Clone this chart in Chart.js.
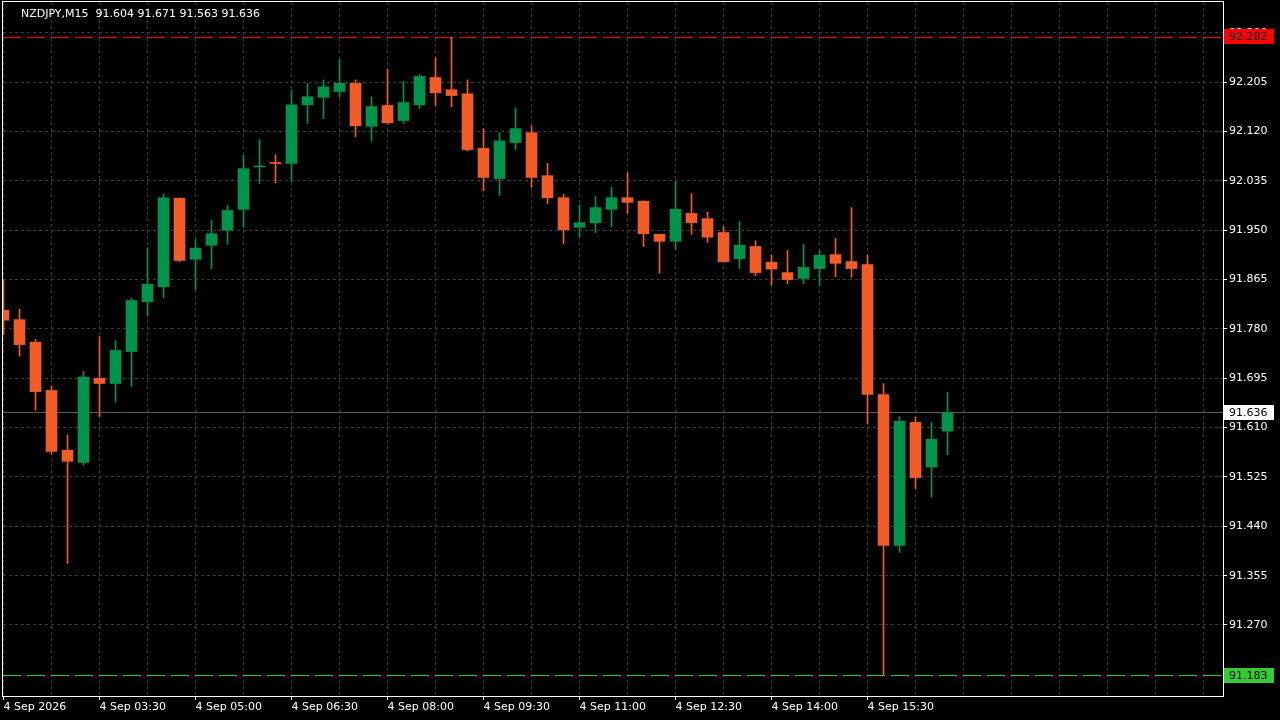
<!DOCTYPE html>
<html>
<head>
<meta charset="utf-8">
<script src="https://cdn.jsdelivr.net/npm/chart.js@4/dist/chart.umd.min.js"></script>
<style>
  html, body { margin: 0; padding: 0; background: #000; overflow: hidden; }
  canvas { display: block; }
</style>
</head>
<body>
<canvas id="chart" width="1280" height="720"></canvas>
<script>
// NZDJPY M15, 60 bars starting 4 Sep 02:00
var symbol = "NZDJPY,M15";

var opens = [
  91.812, 91.796, 91.757, 91.674, 91.571, 91.550, 91.695, 91.686, 91.741, 91.827,
  91.853, 92.005, 91.900, 91.924, 91.950, 91.986, 92.059, 92.066, 92.065, 92.166,
  92.179, 92.189, 92.203, 92.129, 92.165, 92.139, 92.166, 92.213, 92.192, 92.185,
  92.091, 92.039, 92.101, 92.118, 92.044, 92.006, 91.955, 91.963, 91.986, 92.006,
  92.000, 91.943, 91.931, 91.979, 91.970, 91.946, 91.901, 91.922, 91.895, 91.877,
  91.867, 91.884, 91.908, 91.896, 91.891, 91.667, 91.407, 91.619, 91.542, 91.604
];
var highs = [
  91.864, 91.814, 91.762, 91.682, 91.597, 91.707, 91.767, 91.760, 91.833, 91.920,
  92.013, 92.006, 91.934, 91.967, 91.993, 92.079, 92.106, 92.080, 92.191, 92.203,
  92.209, 92.244, 92.209, 92.180, 92.227, 92.206, 92.218, 92.247, 92.282, 92.209,
  92.125, 92.118, 92.161, 92.130, 92.065, 92.012, 91.994, 92.008, 92.024, 92.049,
  92.001, 91.943, 92.034, 92.013, 91.981, 91.956, 91.965, 91.932, 91.907, 91.915,
  91.926, 91.915, 91.936, 91.989, 91.907, 91.686, 91.629, 91.628, 91.619, 91.671
];
var lows = [
  91.771, 91.733, 91.640, 91.564, 91.376, 91.545, 91.629, 91.654, 91.681, 91.803,
  91.834, 91.896, 91.848, 91.884, 91.926, 91.955, 92.030, 92.032, 92.034, 92.134,
  92.142, 92.179, 92.111, 92.103, 92.134, 92.134, 92.160, 92.165, 92.163, 92.087,
  92.018, 92.010, 92.089, 92.024, 91.996, 91.927, 91.938, 91.946, 91.956, 91.979,
  91.922, 91.876, 91.917, 91.943, 91.929, 91.895, 91.884, 91.872, 91.855, 91.858,
  91.858, 91.855, 91.870, 91.869, 91.617, 91.183, 91.395, 91.505, 91.490, 91.563
];
var closes = [
  91.795, 91.753, 91.672, 91.569, 91.552, 91.697, 91.686, 91.743, 91.829, 91.857,
  92.006, 91.898, 91.919, 91.944, 91.984, 92.056, 92.060, 92.065, 92.166, 92.180,
  92.197, 92.203, 92.130, 92.163, 92.135, 92.170, 92.215, 92.187, 92.182, 92.089,
  92.041, 92.104, 92.125, 92.041, 92.006, 91.951, 91.963, 91.989, 92.006, 91.998,
  91.944, 91.931, 91.986, 91.963, 91.938, 91.896, 91.924, 91.877, 91.883, 91.865,
  91.886, 91.907, 91.893, 91.884, 91.667, 91.407, 91.621, 91.524, 91.590, 91.636
];

// one label every 6 bars
var timeLabels = [
  "4 Sep 2026", "4 Sep 03:30", "4 Sep 05:00", "4 Sep 06:30", "4 Sep 08:00",
  "4 Sep 09:30", "4 Sep 11:00", "4 Sep 12:30", "4 Sep 14:00", "4 Sep 15:30"
];
var priceTicks = [
  92.290, 92.205, 92.120, 92.035, 91.950, 91.865, 91.780, 91.695,
  91.610, 91.525, 91.440, 91.355, 91.270
];

var dayHigh = 92.282;
var dayLow = 91.183;
var bid = 91.636;

var bullColor = "#00944a";
var bearColor = "#f25c28";
var gridColor = "#3a3a3a";

// visible window (chart shift leaves empty space on the right)
var xMin = -0.03125, xMax = 76.21875;
var yMin = 91.14769, yMax = 92.34315;

var bodyData = opens.map(function (o, i) { return { x: i, y: [o, closes[i]] }; });
var wickData = lows.map(function (l, i) { return { x: i, y: [l, highs[i]] }; });
var candleColors = opens.map(function (o, i) { return closes[i] >= o ? bullColor : bearColor; });

function hline(value, color, dash) {
    return {
        type: "line",
        data: [{ x: xMin, y: value }, { x: xMax, y: value }],
        borderColor: color,
        borderWidth: 1,
        borderDash: dash,
        pointRadius: 0,
        order: 5
    };
}

function labelled(v) {
    return v % 6 === 0 && v / 6 < timeLabels.length;
}

// no extra room for edge labels, the frame fills the window
function noPadding(scale) {
    scale.paddingTop = 0;
    scale.paddingBottom = 0;
    scale.paddingLeft = 0;
    scale.paddingRight = 0;
}

var overlay = {
    id: "overlay",
    afterDraw: function (chart) {
        var ctx = chart.ctx;
        var area = chart.chartArea;
        var y = chart.scales.y;

        ctx.save();
        // frame
        ctx.strokeStyle = "#ffffff";
        ctx.lineWidth = 1;
        ctx.strokeRect(area.left - 0.5, area.top - 0.5, area.right - area.left + 1, area.bottom - area.top + 1);

        ctx.font = "11px 'DejaVu Sans'";
        ctx.textBaseline = "middle";

        // price tags on the axis
        [[dayHigh, "#ff0000"], [bid, "#ffffff"], [dayLow, "#32cd32"]].forEach(function (t) {
            var py = Math.round(y.getPixelForValue(t[0]));
            ctx.fillStyle = t[1];
            ctx.fillRect(area.right + 1, py - 8, 50, 15);
            ctx.fillStyle = "#000000";
            ctx.fillText(t[0].toFixed(3), area.right + 6, py);
        });

        // title
        var last = opens.length - 1;
        ctx.fillStyle = "#ffffff";
        ctx.textBaseline = "alphabetic";
        ctx.fillText(symbol + "  " + opens[last].toFixed(3) + " " + highs[last].toFixed(3) + " " +
            lows[last].toFixed(3) + " " + closes[last].toFixed(3), 21, 17);
        ctx.restore();
    }
};

Chart.defaults.font.family = "'DejaVu Sans'";
Chart.defaults.font.size = 11;

new Chart(document.getElementById("chart"), {
    type: "bar",
    data: {
        datasets: [
            {
                data: bodyData,
                backgroundColor: candleColors,
                barThickness: 11,
                minBarLength: 1,
                grouped: false,
                borderWidth: 0,
                order: 0
            },
            {
                data: wickData,
                backgroundColor: candleColors,
                barThickness: 1,
                grouped: false,
                borderWidth: 0,
                order: 1
            },
            hline(bid, "#5a5a5a", []),
            hline(dayHigh, "#ff0000", [18, 6]),
            hline(dayLow, "#32cd32", [18, 6])
        ]
    },
    options: {
        responsive: false,
        animation: false,
        layout: { padding: { left: 3, top: 2, right: 0, bottom: 0 } },
        plugins: { legend: { display: false }, tooltip: { enabled: false } },
        scales: {
            x: {
                type: "linear",
                min: xMin,
                max: xMax,
                offset: false,
                afterBuildTicks: function (scale) {
                    var t = [];
                    for (var v = 0; v <= 75; v += 3) t.push({ value: v });
                    scale.ticks = t;
                },
                afterFit: function (scale) { scale.height = 24; noPadding(scale); },
                ticks: {
                    autoSkip: false,
                    maxRotation: 0,
                    align: "start",
                    color: "#ffffff",
                    padding: 1,
                    callback: function (v) { return labelled(v) ? timeLabels[v / 6] : ""; }
                },
                grid: {
                    offset: false,
                    color: gridColor,
                    tickLength: 4,
                    tickColor: function (c) {
                        return c.tick && labelled(c.tick.value) ? "#ffffff" : "rgba(0,0,0,0)";
                    }
                },
                border: { display: false, dash: [3, 3] }
            },
            y: {
                type: "linear",
                position: "right",
                min: yMin,
                max: yMax,
                afterBuildTicks: function (scale) {
                    scale.ticks = priceTicks.map(function (v) { return { value: v }; });
                },
                afterFit: function (scale) { scale.width = 57; noPadding(scale); },
                ticks: {
                    color: "#ffffff",
                    padding: 2,
                    callback: function (v) { return v.toFixed(3); }
                },
                grid: { color: gridColor, tickLength: 4, tickColor: "#ffffff" },
                border: { display: false, dash: [3, 3] }
            }
        }
    },
    plugins: [overlay]
});
</script>
</body>
</html>
